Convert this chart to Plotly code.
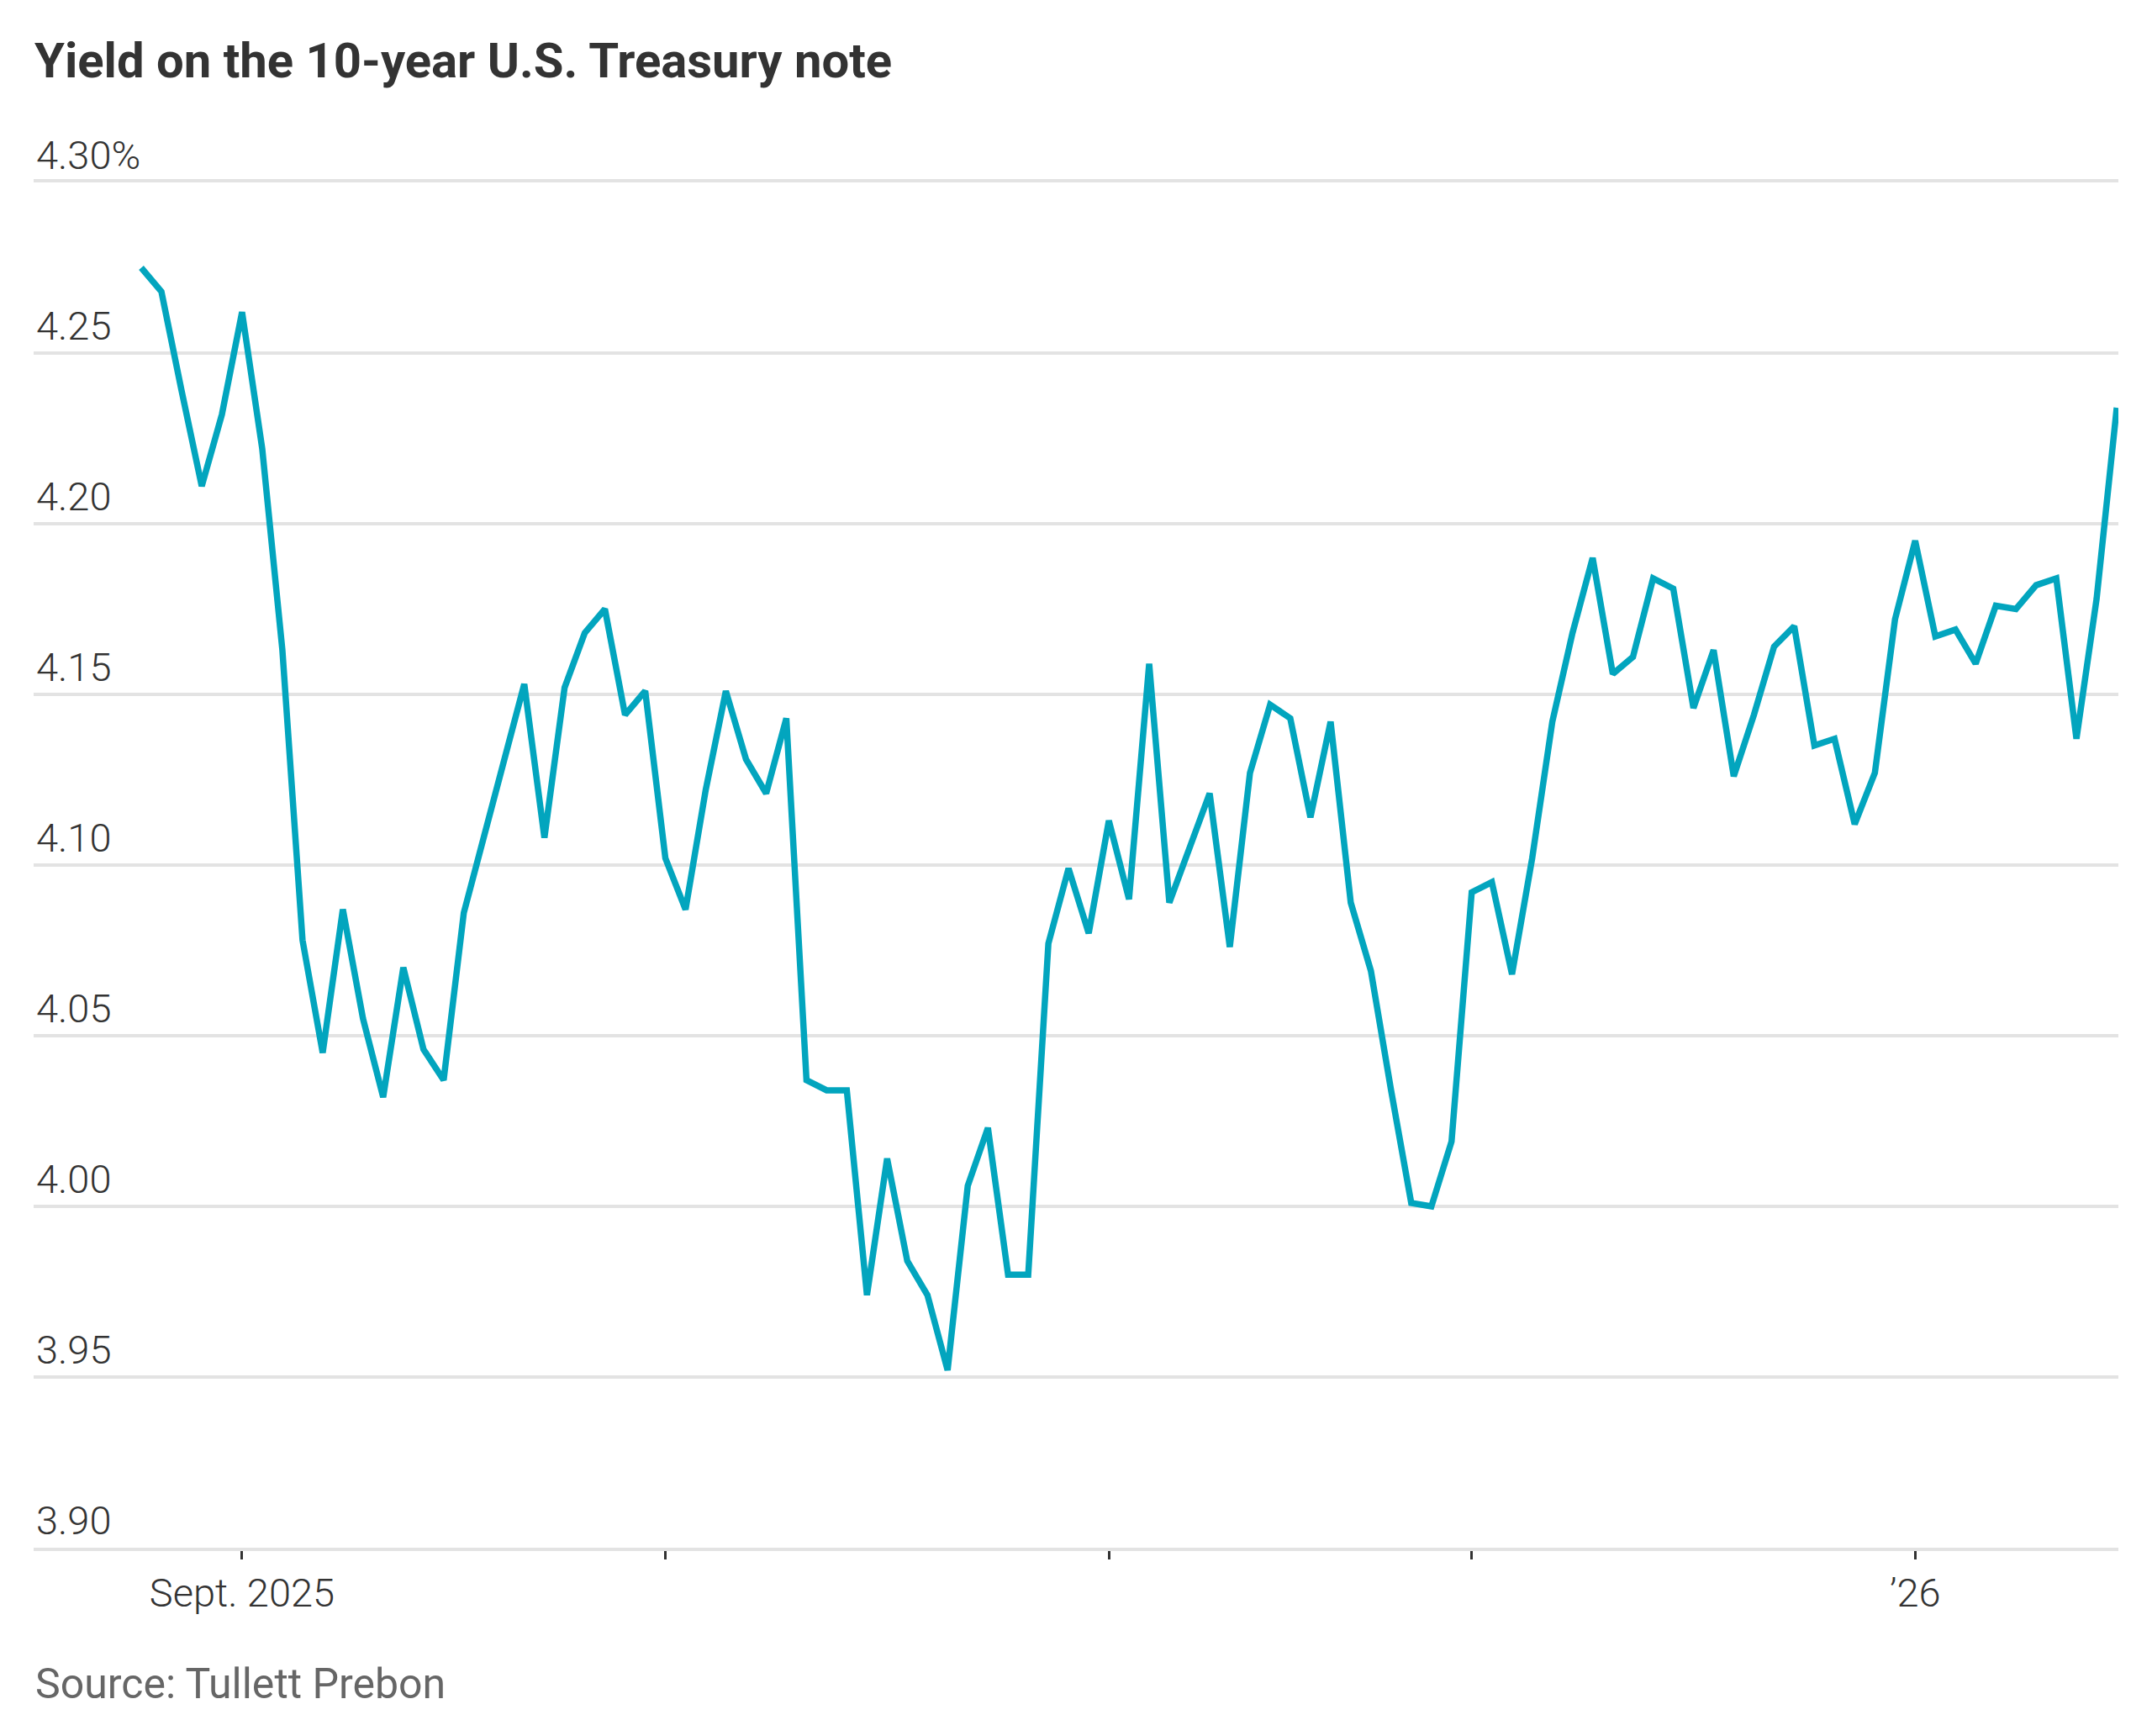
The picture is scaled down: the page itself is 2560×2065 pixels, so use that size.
import pandas as pd
import plotly.graph_objects as go

# 10-year Treasury yield, daily close, Aug 25 2025 - Jan 16 2026 (bond market trading days)
start_date = "2025-08-25"
end_date = "2026-01-16"
bond_holidays = ["2025-09-01", "2025-10-13", "2025-11-11", "2025-11-27", "2025-12-25", "2026-01-01"]

yields = [
    4.275, 4.268, 4.239, 4.211, 4.232, 4.262, 4.222, 4.163, 4.078, 4.045,
    4.087, 4.055, 4.032, 4.070, 4.046, 4.037, 4.086, 4.108, 4.130, 4.153,
    4.108, 4.152, 4.168, 4.175, 4.144, 4.151, 4.102, 4.087, 4.122, 4.151,
    4.131, 4.121, 4.143, 4.037, 4.034, 4.034, 3.974, 4.014, 3.984, 3.974,
    3.952, 4.006, 4.023, 3.980, 3.980, 4.077, 4.099, 4.080, 4.113, 4.090,
    4.159, 4.089, 4.105, 4.121, 4.076, 4.127, 4.147, 4.143, 4.114, 4.142,
    4.089, 4.069, 4.034, 4.001, 4.000, 4.019, 4.092, 4.095, 4.068, 4.102,
    4.142, 4.168, 4.190, 4.156, 4.161, 4.184, 4.181, 4.146, 4.163, 4.126,
    4.144, 4.164, 4.170, 4.135, 4.137, 4.112, 4.127, 4.172, 4.195, 4.167,
    4.169, 4.159, 4.176, 4.175, 4.182, 4.184, 4.137, 4.178, 4.234,
]

y_ticks = [3.90, 3.95, 4.00, 4.05, 4.10, 4.15, 4.20, 4.25, 4.30]
y_labels = ["3.90", "3.95", "4.00", "4.05", "4.10", "4.15", "4.20", "4.25", "4.30%"]

month_starts = ["2025-09-02", "2025-10-01", "2025-11-03", "2025-12-01", "2026-01-02"]
month_labels = ["Sept. 2025", "", "", "", "\u201926"]
year_start = "2026-01-02"

dates = pd.bdate_range(start_date, end_date)
dates = dates[~dates.isin(pd.to_datetime(bond_holidays))]
assert len(dates) == len(yields)

# x is the position in the trading-day sequence
idx = list(range(len(dates)))
date_pos = {d.strftime("%Y-%m-%d"): i for i, d in enumerate(dates)}
tick_pos = [date_pos[d] for d in month_starts]
x_range = [-5.34, len(dates) - 1 + 0.08]

INK = "#333333"
GRID = "#e3e3e3"
FONT = "Roboto, sans-serif"

fig = go.Figure()
fig.add_trace(go.Scatter(
    x=idx, y=yields, mode="lines",
    line=dict(color="#02a5be", width=7.5),
    customdata=[d.strftime("%b %d, %Y") for d in dates],
    hovertemplate="%{customdata}: %{y:.3f}%<extra></extra>",
    showlegend=False,
))

fig.update_layout(
    width=2560, height=2065,
    paper_bgcolor="white", plot_bgcolor="white",
    margin=dict(l=40, r=40, t=217, b=224),
    font=dict(family=FONT, size=46, color=INK),
    title=dict(
        text="<b>Yield on the 10-year U.S. Treasury note</b>",
        font=dict(family=FONT, size=58, color=INK),
        x=41 / 2560, xanchor="left", xref="container",
        y=1 - 72 / 2065, yanchor="middle", yref="container",
    ),
    # bottom (3.90) and top (4.30) rules come from the x axis line and its mirror
    xaxis=dict(
        range=x_range, tickvals=tick_pos, ticktext=month_labels,
        ticks="outside", ticklen=10, tickwidth=2.5, tickcolor=INK,
        showgrid=False, zeroline=False,
        showline=True, linecolor=GRID, linewidth=3.5, mirror=True,
        tickfont=dict(size=47, color=INK, weight=300),
    ),
    xaxis2=dict(
        range=x_range, overlaying="x", anchor="y", side="bottom",
        tickvals=[date_pos[year_start]], showticklabels=False,
        ticks="outside", ticklen=20, tickwidth=2.5, tickcolor=INK,
        showgrid=False, zeroline=False, showline=False,
    ),
    yaxis=dict(
        range=[3.90, 4.30], tickvals=y_ticks, ticktext=y_labels,
        ticklabelposition="inside top", ticklabeloverflow="allow", ticks="",
        showgrid=True, gridcolor=GRID, gridwidth=3.5,
        zeroline=False, showline=False,
        tickfont=dict(size=47, color=INK, weight=300),
    ),
)

fig.add_annotation(
    text="Source: Tullett Prebon",
    xref="paper", yref="paper", x=0, y=(1841 - 2003) / 1624,
    xanchor="left", yanchor="middle", showarrow=False,
    font=dict(family=FONT, size=50, color="#666666"),
)

fig.write_html(
    "out.html",
    config={"displayModeBar": False},
    post_script="document.body.style.margin='0';",
)
